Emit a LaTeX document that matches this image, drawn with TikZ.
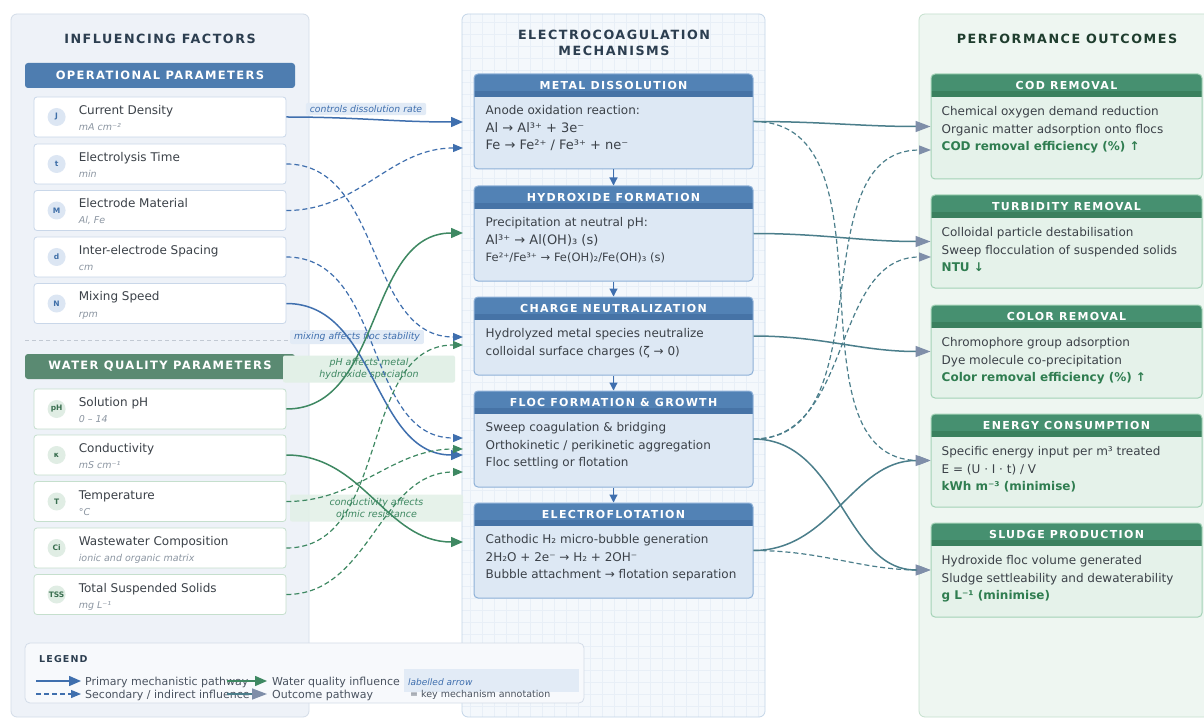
\documentclass[tikz,border=0pt]{standalone}
\usepackage{fontspec}
\setmainfont{DejaVu Sans}
\newfontfamily\capsfont[LetterSpace=12]{DejaVu Sans}
\usetikzlibrary{arrows.meta}

\definecolor{inkdark}{HTML}{2C3E50}
\definecolor{inkgreen}{HTML}{1F3D2E}
\definecolor{bodytext}{HTML}{3B4148}
\definecolor{subgray}{HTML}{8C96A2}
\definecolor{leftfill}{HTML}{EEF2F8}
\definecolor{leftdraw}{HTML}{D3DCE8}
\definecolor{midfill}{HTML}{F4F8FC}
\definecolor{middraw}{HTML}{C3D5E8}
\definecolor{gridcol}{HTML}{E8EFF7}
\definecolor{rightfill}{HTML}{EEF6F1}
\definecolor{rightdraw}{HTML}{C4E0CD}
\definecolor{opbar}{HTML}{4E7DB0}
\definecolor{wqbar}{HTML}{5A8A72}
\definecolor{blueedge}{HTML}{C9D7E9}
\definecolor{greenedge}{HTML}{C5DFCD}
\definecolor{iconblue}{HTML}{DCE6F3}
\definecolor{iconbluetxt}{HTML}{3F6FA8}
\definecolor{icongreen}{HTML}{E0EDE4}
\definecolor{icongreentxt}{HTML}{3A6F50}
\definecolor{mechhead}{HTML}{5282B5}
\definecolor{mechheaddk}{HTML}{4673A6}
\definecolor{mechbody}{HTML}{DDE8F4}
\definecolor{mechdraw}{HTML}{8EB1D8}
\definecolor{outhead}{HTML}{469070}
\definecolor{outheaddk}{HTML}{3A805E}
\definecolor{outbody}{HTML}{E5F2EA}
\definecolor{outdraw}{HTML}{A3D2B6}
\definecolor{goodgreen}{HTML}{2F7D50}
\definecolor{blueline}{HTML}{3F6FAE}
\definecolor{greenline}{HTML}{3E8862}
\definecolor{outedge}{HTML}{4B7E8B}
\definecolor{outtip}{HTML}{7F8EA9}
\definecolor{lblblue}{HTML}{E2EBF6}
\definecolor{lblgreen}{HTML}{E2F0E7}
\definecolor{lgfill}{HTML}{F7F9FC}
\definecolor{lgtext}{HTML}{4A5360}

\tikzset{
  bar/.style={rounded corners=3pt, minimum width=270pt, minimum height=25pt, inner sep=0pt,
    text=white, font=\capsfont\bfseries\fontsize{11.5}{13}\selectfont},
  factor/.style={draw=#1, fill=white, rounded corners=3pt, line width=0.8pt,
    minimum width=252pt, minimum height=40pt},
  icon/.style={circle, fill=#1, minimum size=18pt, inner sep=0pt,
    font=\bfseries\fontsize{7.5}{8}\selectfont},
  ftitle/.style={anchor=base west, inner sep=0pt, text=bodytext, font=\fontsize{12}{13}\selectfont},
  fsub/.style={anchor=base west, inner sep=0pt, text=subgray, font=\itshape\fontsize{9.5}{11}\selectfont},
  mech/.style={draw=mechdraw, fill=mechbody, rounded corners=4pt, line width=1pt,
    minimum width=279pt, inner sep=0pt,
    path picture={
      \fill[mechhead, sharp corners] (path picture bounding box.north west)
        rectangle ([yshift=-23pt]path picture bounding box.north east);
      \fill[mechheaddk, sharp corners] ([yshift=-17pt]path picture bounding box.north west)
        rectangle ([yshift=-23pt]path picture bounding box.north east);}},
  outc/.style={draw=outdraw, fill=outbody, rounded corners=4pt, line width=1pt,
    minimum width=271pt, inner sep=0pt,
    path picture={
      \fill[outhead, sharp corners] (path picture bounding box.north west)
        rectangle ([yshift=-23pt]path picture bounding box.north east);
      \fill[outheaddk, sharp corners] ([yshift=-17pt]path picture bounding box.north west)
        rectangle ([yshift=-23pt]path picture bounding box.north east);}},
  head/.style={inner sep=0pt, text=white, font=\capsfont\bfseries\fontsize{11}{13}\selectfont},
  ptitle/.style={inner sep=0pt, align=center, font=\capsfont\bfseries\fontsize{12.7}{16}\selectfont},
  btext/.style={anchor=north west, align=left, inner sep=0pt, text=bodytext,
    font=\fontsize{12}{17.5}\selectfont},
  lbl/.style={fill=#1, rounded corners=2pt, inner xsep=4pt, inner ysep=2.5pt,
    font=\itshape\fontsize{9.3}{10}\selectfont},
  prim/.style={draw=blueline, line width=1.5pt, -{Triangle[length=12pt,width=10pt]}},
  psec/.style={draw=blueline, line width=1.2pt, dash pattern=on 5pt off 3pt,
    -{Triangle[length=10pt,width=8pt]}},
  wqprim/.style={prim, draw=greenline},
  wqsec/.style={psec, draw=greenline},
  outp/.style={draw=outedge, line width=1.5pt, -{Triangle[length=15pt,width=11pt,color=outtip]}},
  outsec/.style={draw=outedge, line width=1.2pt, dash pattern=on 5pt off 3pt,
    -{Triangle[length=12pt,width=9pt,color=outtip]}},
  flow/.style={draw=blueline, line width=1.2pt, -{Triangle[length=8pt,width=8pt]}},
  gridln/.style={draw=gridcol, line width=0.4pt},
  lgtxt/.style={anchor=base west, inner sep=0pt, text=lgtext, font=\fontsize{11}{12}\selectfont}
}

\begin{document}
\begin{tikzpicture}[x=1pt,y=-1pt]
  \useasboundingbox (0,0) rectangle (1204,719);
  \fill[white] (0,0) rectangle (1204,719);

  % panels
  \draw[fill=leftfill, draw=leftdraw, rounded corners=6pt, line width=0.8pt] (11,14) rectangle (309,717);
  \fill[midfill, rounded corners=6pt] (462,14) rectangle (765,717);
  \begin{scope}
    \clip[rounded corners=6pt] (462,14) rectangle (765,717);
    \foreach \gx in {470,482,...,760} \draw[gridln] (\gx,14) -- (\gx,717);
    \foreach \gy in {22,34,...,716} \draw[gridln] (462,\gy) -- (765,\gy);
  \end{scope}
  \draw[draw=middraw, rounded corners=6pt, line width=0.8pt] (462,14) rectangle (765,717);
  \draw[fill=rightfill, draw=rightdraw, rounded corners=6pt, line width=0.8pt] (919,14) rectangle (1215,717);

  \node[ptitle, text=inkdark] (t-left) at (160,39) {INFLUENCING FACTORS};
  \node[ptitle, text=inkdark] (t-mid) at (614,43) {ELECTROCOAGULATION\\MECHANISMS};
  \node[ptitle, text=inkgreen] (t-right) at (1067,39) {PERFORMANCE OUTCOMES};

  % operational parameters
  \node[bar, fill=opbar] (opbar) at (160,75.5) {OPERATIONAL PARAMETERS};

  \node[factor=blueedge] (cd) at (160,117) {};
  \node[factor=blueedge] (et) at (160,164) {};
  \node[factor=blueedge] (em) at (160,210.5) {};
  \node[factor=blueedge] (ies) at (160,257) {};
  \node[factor=blueedge] (ms) at (160,303.5) {};

  \node[icon=iconblue, text=iconbluetxt] (cd-i) at ([xshift=23pt]cd.west) {J};
  \node[icon=iconblue, text=iconbluetxt] (et-i) at ([xshift=23pt]et.west) {t};
  \node[icon=iconblue, text=iconbluetxt] (em-i) at ([xshift=23pt]em.west) {M};
  \node[icon=iconblue, text=iconbluetxt] (ies-i) at ([xshift=23pt]ies.west) {d};
  \node[icon=iconblue, text=iconbluetxt] (ms-i) at ([xshift=23pt]ms.west) {N};

  \node[ftitle] (cd-t) at ([xshift=45pt,yshift=2.5pt]cd.west) {Current Density};
  \node[fsub] (cd-s) at ([xshift=45pt,yshift=-13.5pt]cd.west) {mA cm⁻²};
  \node[ftitle] (et-t) at ([xshift=45pt,yshift=2.5pt]et.west) {Electrolysis Time};
  \node[fsub] (et-s) at ([xshift=45pt,yshift=-13.5pt]et.west) {min};
  \node[ftitle] (em-t) at ([xshift=45pt,yshift=2.5pt]em.west) {Electrode Material};
  \node[fsub] (em-s) at ([xshift=45pt,yshift=-13.5pt]em.west) {Al, Fe};
  \node[ftitle] (ies-t) at ([xshift=45pt,yshift=2.5pt]ies.west) {Inter-electrode Spacing};
  \node[fsub] (ies-s) at ([xshift=45pt,yshift=-13.5pt]ies.west) {cm};
  \node[ftitle] (ms-t) at ([xshift=45pt,yshift=2.5pt]ms.west) {Mixing Speed};
  \node[fsub] (ms-s) at ([xshift=45pt,yshift=-13.5pt]ms.west) {rpm};

  \draw[draw=leftdraw!80!gray, line width=0.8pt, dash pattern=on 4pt off 3pt] (25,340) -- (295,340);

  % water quality parameters
  \node[bar, fill=wqbar] (wqbar) at (160,366.5) {WATER QUALITY PARAMETERS};

  \node[factor=greenedge] (ph) at (160,409) {};
  \node[factor=greenedge] (co) at (160,455) {};
  \node[factor=greenedge] (te) at (160,501.5) {};
  \node[factor=greenedge] (wc) at (160,548) {};
  \node[factor=greenedge] (ts) at (160,594.5) {};

  \node[icon=icongreen, text=icongreentxt] (ph-i) at ([xshift=23pt]ph.west) {pH};
  \node[icon=icongreen, text=icongreentxt] (co-i) at ([xshift=23pt]co.west) {κ};
  \node[icon=icongreen, text=icongreentxt] (te-i) at ([xshift=23pt]te.west) {T};
  \node[icon=icongreen, text=icongreentxt] (wc-i) at ([xshift=23pt]wc.west) {Ci};
  \node[icon=icongreen, text=icongreentxt] (ts-i) at ([xshift=23pt]ts.west) {TSS};

  \node[ftitle] (ph-t) at ([xshift=45pt,yshift=2.5pt]ph.west) {Solution pH};
  \node[fsub] (ph-s) at ([xshift=45pt,yshift=-13.5pt]ph.west) {0 – 14};
  \node[ftitle] (co-t) at ([xshift=45pt,yshift=2.5pt]co.west) {Conductivity};
  \node[fsub] (co-s) at ([xshift=45pt,yshift=-13.5pt]co.west) {mS cm⁻¹};
  \node[ftitle] (te-t) at ([xshift=45pt,yshift=2.5pt]te.west) {Temperature};
  \node[fsub] (te-s) at ([xshift=45pt,yshift=-13.5pt]te.west) {°C};
  \node[ftitle] (wc-t) at ([xshift=45pt,yshift=2.5pt]wc.west) {Wastewater Composition};
  \node[fsub] (wc-s) at ([xshift=45pt,yshift=-13.5pt]wc.west) {ionic and organic matrix};
  \node[ftitle] (ts-t) at ([xshift=45pt,yshift=2.5pt]ts.west) {Total Suspended Solids};
  \node[fsub] (ts-s) at ([xshift=45pt,yshift=-13.5pt]ts.west) {mg L⁻¹};

  % mechanisms
  \node[mech, minimum height=95pt] (md) at (613.5,121.5) {};
  \node[mech, minimum height=95pt] (hf) at (613.5,233.5) {};
  \node[mech, minimum height=78pt] (cn) at (613.5,336) {};
  \node[mech, minimum height=96pt] (ff) at (613.5,439) {};
  \node[mech, minimum height=95pt] (ef) at (613.5,550.5) {};

  \node[head] (md-h) at ([yshift=-11.5pt]md.north) {METAL DISSOLUTION};
  \node[head] (hf-h) at ([yshift=-11.5pt]hf.north) {HYDROXIDE FORMATION};
  \node[head] (cn-h) at ([yshift=-11.5pt]cn.north) {CHARGE NEUTRALIZATION};
  \node[head] (ff-h) at ([yshift=-11.5pt]ff.north) {FLOC FORMATION \& GROWTH};
  \node[head] (ef-h) at ([yshift=-11.5pt]ef.north) {ELECTROFLOTATION};

  \node[btext] (md-x) at ([xshift=12pt,yshift=-32pt]md.north west)
    {Anode oxidation reaction:\\ {\fontsize{13}{17.5}\selectfont Al → Al³⁺ + 3e⁻}\\
     {\fontsize{13}{17.5}\selectfont Fe → Fe²⁺ / Fe³⁺ + ne⁻}};
  \node[btext] (hf-x) at ([xshift=12pt,yshift=-32pt]hf.north west)
    {Precipitation at neutral pH:\\ {\fontsize{13}{17.5}\selectfont Al³⁺ → Al(OH)₃ (s)}\\
     {\fontsize{11.5}{17.5}\selectfont Fe²⁺/Fe³⁺ → Fe(OH)₂/Fe(OH)₃ (s)}};
  \node[btext] (cn-x) at ([xshift=12pt,yshift=-32pt]cn.north west)
    {Hydrolyzed metal species neutralize\\ colloidal surface charges (ζ → 0)};
  \node[btext] (ff-x) at ([xshift=12pt,yshift=-32pt]ff.north west)
    {Sweep coagulation \& bridging\\ Orthokinetic / perikinetic aggregation\\ Floc settling or flotation};
  \node[btext] (ef-x) at ([xshift=12pt,yshift=-32pt]ef.north west)
    {Cathodic H₂ micro-bubble generation\\ 2H₂O + 2e⁻ → H₂ + 2OH⁻\\ Bubble attachment → flotation separation};

  \draw[flow] (md.south) -- (hf.north);
  \draw[flow] (hf.south) -- (cn.north);
  \draw[flow] (cn.south) -- (ff.north);
  \draw[flow] (ff.south) -- (ef.north);

  % outcomes
  \node[outc, minimum height=105pt] (cod) at (1066.5,126.5) {};
  \node[outc, minimum height=93pt] (tr) at (1066.5,241.5) {};
  \node[outc, minimum height=93pt] (crm) at (1066.5,351.5) {};
  \node[outc, minimum height=93pt] (ec) at (1066.5,460.5) {};
  \node[outc, minimum height=94pt] (sp) at (1066.5,570) {};

  \node[head] (cod-h) at ([yshift=-11.5pt]cod.north) {COD REMOVAL};
  \node[head] (tr-h) at ([yshift=-11.5pt]tr.north) {TURBIDITY REMOVAL};
  \node[head] (crm-h) at ([yshift=-11.5pt]crm.north) {COLOR REMOVAL};
  \node[head] (ec-h) at ([yshift=-11.5pt]ec.north) {ENERGY CONSUMPTION};
  \node[head] (sp-h) at ([yshift=-11.5pt]sp.north) {SLUDGE PRODUCTION};

  \node[btext] (cod-x) at ([xshift=11pt,yshift=-33pt]cod.north west)
    {Chemical oxygen demand reduction\\ Organic matter adsorption onto flocs\\
     \textcolor{goodgreen}{\bfseries COD removal efficiency (\%) ↑}};
  \node[btext] (tr-x) at ([xshift=11pt,yshift=-33pt]tr.north west)
    {Colloidal particle destabilisation\\ Sweep flocculation of suspended solids\\
     \textcolor{goodgreen}{\bfseries NTU ↓}};
  \node[btext] (crm-x) at ([xshift=11pt,yshift=-33pt]crm.north west)
    {Chromophore group adsorption\\ Dye molecule co-precipitation\\
     \textcolor{goodgreen}{\bfseries Color removal efficiency (\%) ↑}};
  \node[btext] (ec-x) at ([xshift=11pt,yshift=-33pt]ec.north west)
    {Specific energy input per m³ treated\\ E = (U · I · t) / V\\
     \textcolor{goodgreen}{\bfseries kWh m⁻³ (minimise)}};
  \node[btext] (sp-x) at ([xshift=11pt,yshift=-33pt]sp.north west)
    {Hydroxide floc volume generated\\ Sludge settleability and dewaterability\\
     \textcolor{goodgreen}{\bfseries g L⁻¹ (minimise)}};

  % arrow labels
  \node[lbl=lblblue, text=blueline] (l-cd) at (366,109) {controls dissolution rate};
  \node[lbl=lblblue, text=blueline] (l-ms) at (357,337) {mixing affects floc stability};
  \node[lbl=lblgreen, text=greenline, align=center, minimum width=172pt, minimum height=27pt,
    font=\itshape\fontsize{9.5}{12}\selectfont] (l-ph) at (369,369) {pH affects metal\\hydroxide speciation};
  \node[lbl=lblgreen, text=greenline, align=center, minimum width=173pt, minimum height=27pt,
    font=\itshape\fontsize{9.5}{12}\selectfont, fill opacity=0.85, text opacity=1] (l-co) at (376.5,508) {conductivity affects\\ohmic resistance};

  % arrow ends
  \coordinate (md-a) at (463,122);
  \coordinate (md-b) at (463,148);
  \coordinate (hf-a) at (463,233);
  \coordinate (cn-a) at (463,337);
  \coordinate (cn-b) at (463,345);
  \coordinate (ff-a) at (463,438);
  \coordinate (ff-b) at (463,449);
  \coordinate (ff-c) at (463,455);
  \coordinate (ff-d) at (463,472);
  \coordinate (ef-a) at (463,542);
  \coordinate (cod-b) at (931,150);
  \coordinate (tr-b) at (931,257);

  % factors -> mechanisms
  \draw[prim] (cd.east) to[out=0,in=180] (md-a);
  \draw[psec] (et.east) to[out=0,in=180] (cn-a);
  \draw[psec] (em.east) to[out=0,in=180] (md-b);
  \draw[psec] (ies.east) to[out=0,in=180] (ff-a);
  \draw[prim] (ms.east) to[out=0,in=180] (ff-c);
  \draw[wqprim] (ph.east) to[out=0,in=180] (hf-a);
  \draw[wqprim] (co.east) to[out=0,in=180] (ef-a);
  \draw[wqsec] (te.east) to[out=0,in=180] (ff-b);
  \draw[wqsec] (wc.east) to[out=0,in=180] (cn-b);
  \draw[wqsec] (ts.east) to[out=0,in=180] (ff-d);

  % mechanisms -> outcomes
  \draw[outp] (md.east) to[out=0,in=180] (cod.west);
  \draw[outsec] (md.east) to[out=0,in=180] (ec.west);
  \draw[outp] (hf.east) to[out=0,in=180] (tr.west);
  \draw[outp] (cn.east) to[out=0,in=180] (crm.west);
  \draw[outsec] (ff.east) to[out=0,in=180] (cod-b);
  \draw[outsec] (ff.east) to[out=0,in=180] (tr-b);
  \draw[outp] (ff.east) to[out=0,in=180] (sp.west);
  \draw[outp] (ef.east) to[out=0,in=180] (ec.west);
  \draw[outsec] (ef.east) to[out=0,in=180] (sp.west);

  % legend
  \draw[fill=lgfill, draw=leftdraw, rounded corners=5pt, line width=0.8pt] (25,643) rectangle (584,703);
  \node[anchor=base west, inner sep=0pt, text=inkdark, font=\capsfont\bfseries\fontsize{9.5}{11}\selectfont]
    (lg-t) at (39,662) {LEGEND};
  \coordinate (lg1a) at (36,681);
  \coordinate (lg1b) at (81,681);
  \coordinate (lg2a) at (36,694);
  \coordinate (lg2b) at (81,694);
  \coordinate (lg3a) at (227,681);
  \coordinate (lg3b) at (267,681);
  \coordinate (lg4a) at (227,694);
  \coordinate (lg4b) at (267,694);
  \node[lgtxt] (lg1) at (85,685) {Primary mechanistic pathway};
  \node[lgtxt] (lg2) at (85,698) {Secondary / indirect influence};
  \node[lgtxt] (lg3) at (272,685) {Water quality influence};
  \node[lgtxt] (lg4) at (272,698) {Outcome pathway};
  \draw[prim] (lg1a) -- (lg1b);
  \draw[psec] (lg2a) -- (lg2b);
  \draw[wqprim] (lg3a) -- (lg3b);
  \draw[outp] (lg4a) -- (lg4b);
  \node[fill=lblblue, minimum width=175pt, minimum height=23pt, inner sep=0pt] (lg-box) at (491.5,680.5) {};
  \node[anchor=base west, inner sep=0pt, text=blueline, font=\itshape\fontsize{9}{10}\selectfont]
    (lg5) at (408,685) {labelled arrow};
  \node[anchor=base west, inner sep=0pt, text=lgtext, font=\fontsize{9.5}{10}\selectfont]
    (lg6) at (410,697) {= key mechanism annotation};
\end{tikzpicture}
\end{document}
